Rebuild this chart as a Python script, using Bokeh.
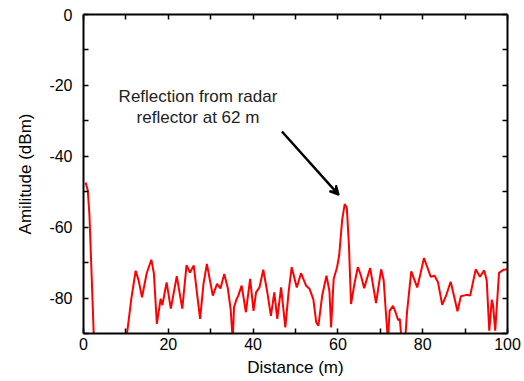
from bokeh.plotting import figure
from bokeh.models import (Range1d, LinearAxis, FixedTicker, Label, Arrow, VeeHead,
                          CustomJSTickFormatter)
from bokeh.embed import file_html
from bokeh.resources import INLINE

distance_m = [0.5, 1.0, 1.4, 1.9, 2.4, 3.0, 9.6, 10.3, 11.3, 12.3, 13.0, 13.8, 14.9, 16.0, 16.6,
              17.3, 18.2, 18.6, 19.6, 20.6, 22.0, 23.3, 24.3, 25.1, 26.0, 26.7, 27.5, 28.3, 29.1,
              30.5, 31.5, 32.3, 33.2, 34.0, 34.7, 35.2, 35.5, 36.1, 36.5, 37.3, 38.3, 39.3, 40.1,
              40.7, 41.5, 42.4, 43.3, 44.2, 45.0, 45.7, 46.6, 47.6, 48.4, 49.1, 50.3, 51.3, 52.5,
              53.3, 54.2, 54.9, 55.4, 56.3, 57.3, 58.0, 58.4, 59.0, 59.8, 60.3, 61.0, 61.6, 62.1,
              62.6, 63.1, 63.9, 64.7, 65.4, 66.2, 67.6, 69.0, 70.2, 70.8, 71.4, 71.8, 72.2, 73.0,
              73.6, 74.2, 74.6, 75.1, 75.8, 76.3, 77.3, 78.7, 79.5, 80.3, 81.9, 82.8, 83.6, 84.6,
              85.6, 86.6, 87.4, 88.2, 89.0, 90.4, 91.2, 92.5, 93.5, 94.5, 95.1, 95.7, 96.3, 96.6,
              97.1, 98.0, 99.1, 100.0]

amplitude_dbm = [-47.4, -49.6, -56.5, -73, -89.7, -100, -97, -89.7, -80, -72.3, -75, -79.8, -73,
                 -69.2, -73, -87.3, -80.2, -82, -75.6, -83, -73.8, -83, -70.7, -72.8, -70.8, -78,
                 -85.9, -76, -70.4, -79.3, -76, -77.3, -73.2, -77, -83.1, -92, -82.6, -80.3, -79.3,
                 -76.5, -84, -74.6, -83.6, -78.4, -77, -72, -78, -85, -78.4, -85.9, -77, -88.3,
                 -78, -71.3, -77, -73, -76.5, -77.4, -80.3, -86.9, -87.8, -79.3, -73.7, -78, -88.3,
                 -74.6, -71.3, -68, -58, -53.5, -54.5, -65, -81.7, -76, -71.3, -73.5, -77.2, -71.5,
                 -81.4, -71.9, -75, -85.5, -92, -83.6, -82.2, -84, -86.2, -85.9, -93, -93, -84,
                 -72.5, -77, -73, -68.7, -74, -73.7, -75.5, -81.9, -79, -75.4, -79.5, -83.7, -79.5,
                 -79.1, -79.3, -71.9, -74, -72.2, -75, -89.2, -80.5, -82, -89.2, -72.9, -72, -71.9]

x_major_ticks = [0, 20, 40, 60, 80, 100]
x_minor_ticks = [10, 30, 50, 70, 90]
y_major_ticks = [0, -20, -40, -60, -80]
y_minor_ticks = [-10, -30, -50, -70, -90]

annotation_lines = ["Reflection from radar", "reflector at 62 m"]
annotation_x = 27.0
annotation_y = [-23.2, -29.2]
arrow_start = (46.8, -33.0)
arrow_end = (60.2, -50.9)

FONT = "Liberation Sans"

p = figure(width=524, height=381, output_backend="svg", toolbar_location=None,
           x_range=Range1d(0, 100), y_range=Range1d(-90, 0),
           x_axis_location=None, y_axis_location=None,
           min_border_left=83, min_border_right=17, min_border_top=14, min_border_bottom=48)
p.grid.visible = False
p.outline_line_color = None
p.background_fill_color = "white"
p.border_fill_color = "white"

p.line(distance_m, amplitude_dbm, line_color="#ff0000", line_width=2)

empty_fmt = CustomJSTickFormatter(code="return '';")


def style_axis(ax, labels=True):
    ax.axis_line_color = "black"
    ax.axis_line_width = 2
    ax.major_tick_in = 5
    ax.major_tick_out = 0
    ax.minor_tick_in = 5
    ax.minor_tick_out = 0
    ax.major_tick_line_width = 1.5
    ax.minor_tick_line_width = 1.5
    ax.major_tick_line_color = "black"
    ax.minor_tick_line_color = "black"
    ax.major_label_text_font = FONT
    ax.major_label_text_font_size = "16px"
    ax.major_label_text_color = "black"
    ax.axis_label_text_font = FONT
    ax.axis_label_text_font_size = "17px"
    ax.axis_label_text_font_style = "normal"
    ax.axis_label_text_color = "black"
    if not labels:
        ax.formatter = empty_fmt
        ax.major_label_standoff = 0


xt = FixedTicker(ticks=x_major_ticks, minor_ticks=x_minor_ticks)
yt = FixedTicker(ticks=y_major_ticks, minor_ticks=y_minor_ticks)

xb = LinearAxis(ticker=xt, axis_label="Distance (m)")
style_axis(xb)
xb.major_label_overrides = {t: str(t) for t in x_major_ticks}
xb.major_label_standoff = 4
xb.axis_label_standoff = 5
p.add_layout(xb, "below")

yl = LinearAxis(ticker=yt, axis_label="Amilitude (dBm)")
style_axis(yl)
yl.major_label_overrides = {t: str(t) for t in y_major_ticks}
yl.major_label_standoff = 11
yl.axis_label_standoff = 11
p.add_layout(yl, "left")

xa = LinearAxis(ticker=FixedTicker(ticks=x_major_ticks, minor_ticks=x_minor_ticks))
style_axis(xa, labels=False)
p.add_layout(xa, "above")

yr = LinearAxis(ticker=FixedTicker(ticks=y_major_ticks, minor_ticks=y_minor_ticks))
style_axis(yr, labels=False)
p.add_layout(yr, "right")

for txt, yy in zip(annotation_lines, annotation_y):
    p.add_layout(Label(x=annotation_x, y=yy, text=txt, text_align="center",
                       text_baseline="middle", text_font=FONT, text_font_size="17px",
                       text_color="#222222"))

p.add_layout(Arrow(x_start=arrow_start[0], y_start=arrow_start[1],
                   x_end=arrow_end[0], y_end=arrow_end[1],
                   line_color="black", line_width=2.5,
                   end=VeeHead(size=9, line_color="black", line_width=2, fill_color="black")))

open("out.html", "w").write(file_html(p, INLINE))
